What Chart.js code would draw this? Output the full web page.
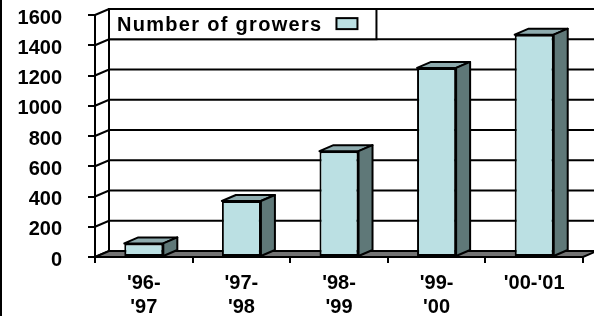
<!DOCTYPE html>
<html>
<head>
<meta charset="utf-8">
<script src="https://cdn.jsdelivr.net/npm/chart.js@4/dist/chart.umd.min.js"></script>
<style>
  html, body { margin: 0; padding: 0; background: #fff; }
  canvas { display: block; }
</style>
</head>
<body>
<canvas id="chart" width="594" height="316"></canvas>
<script>
// data
const seasons = [["'96-", "'97"], ["'97-", "'98"], ["'98-", "'99"], ["'99-", "'00"], "'00-'01"];
const growers = [90, 370, 700, 1250, 1470];
const yTicks = [0, 200, 400, 600, 800, 1000, 1200, 1400, 1600];
const seriesName = 'Number of growers';

// 3d look
const DX = 14, DY = -6;
const FRONT = '#bbe0e3', TOP = '#8eabae', SIDE = '#5f7878', FLOOR = '#737373';
const FONT = { family: '"Liberation Sans", Arial, sans-serif', size: 20, weight: 'bold' };

const wallPlugin = {
    id: 'wall',
    beforeDatasetsDraw(chart) {
        const ctx = chart.ctx;
        const { left, right } = chart.chartArea;
        const y = chart.scales.y;
        ctx.save();
        ctx.strokeStyle = '#000';
        ctx.lineWidth = 2;
        // back wall grid + side wall diagonals
        yTicks.forEach(v => {
            const py = y.getPixelForValue(v);
            ctx.beginPath();
            ctx.moveTo(left, py);
            ctx.lineTo(left + DX, py + DY);
            ctx.lineTo(right + DX, py + DY);
            ctx.stroke();
        });
        const y0 = y.getPixelForValue(0);
        const yMax = y.getPixelForValue(yTicks[yTicks.length - 1]);
        ctx.beginPath();
        ctx.moveTo(left + DX, y0 + DY);
        ctx.lineTo(left + DX, yMax + DY);
        ctx.stroke();
        // floor
        ctx.beginPath();
        ctx.moveTo(left, y0);
        ctx.lineTo(right, y0);
        ctx.lineTo(right + DX, y0 + DY);
        ctx.lineTo(left + DX, y0 + DY);
        ctx.closePath();
        ctx.fillStyle = FLOOR;
        ctx.fill();
        ctx.stroke();
        ctx.restore();
    },
    afterDatasetsDraw(chart) {
        const ctx = chart.ctx;
        ctx.save();
        ctx.strokeStyle = '#000';
        ctx.lineWidth = 2;
        ctx.lineJoin = 'round';
        chart.getDatasetMeta(0).data.forEach(bar => {
            const l = bar.x - bar.width / 2, r = bar.x + bar.width / 2;
            const t = bar.y, b = bar.base;
            // top face
            ctx.beginPath();
            ctx.moveTo(l, t);
            ctx.lineTo(l + DX, t + DY);
            ctx.lineTo(r + DX, t + DY);
            ctx.lineTo(r, t);
            ctx.closePath();
            ctx.fillStyle = TOP;
            ctx.fill();
            ctx.stroke();
            // side face
            ctx.beginPath();
            ctx.moveTo(r, t);
            ctx.lineTo(r + DX, t + DY);
            ctx.lineTo(r + DX, b + DY);
            ctx.lineTo(r, b);
            ctx.closePath();
            ctx.fillStyle = SIDE;
            ctx.fill();
            ctx.stroke();
        });
        ctx.restore();
    },
    afterDraw(chart) {
        const ctx = chart.ctx;
        const { left } = chart.chartArea;
        const y = chart.scales.y;
        ctx.save();
        // legend box sitting on the back wall
        const bx = left + DX;
        const by = y.getPixelForValue(1600) + DY;
        const bh = y.getPixelForValue(1400) - y.getPixelForValue(1600);
        ctx.font = `${FONT.weight} ${FONT.size}px ${FONT.family}`;
        ctx.letterSpacing = '1.3px';
        const tw = ctx.measureText(seriesName).width;
        const bw = 8 + tw + 14 + 21 + 19;
        ctx.fillStyle = '#fff';
        ctx.fillRect(bx, by, bw, bh);
        ctx.strokeStyle = '#000';
        ctx.lineWidth = 2;
        ctx.strokeRect(bx, by, bw, bh);
        ctx.fillStyle = '#000';
        ctx.textBaseline = 'middle';
        ctx.fillText(seriesName, bx + 8, by + bh / 2 + 1);
        ctx.fillStyle = FRONT;
        ctx.fillRect(bx + 8 + tw + 14, by + bh / 2 - 6, 21, 11);
        ctx.strokeRect(bx + 8 + tw + 14, by + bh / 2 - 6, 21, 11);
        // frame edge on the left
        ctx.fillStyle = '#000';
        ctx.fillRect(0, 0, 2, chart.height);
        ctx.restore();
    }
};

new Chart(document.getElementById('chart').getContext('2d'), {
    type: 'bar',
    plugins: [wallPlugin],
    data: {
        labels: seasons,
        datasets: [{
            label: seriesName,
            data: growers,
            backgroundColor: FRONT,
            borderColor: '#000',
            borderWidth: 2,
            borderSkipped: false,
            categoryPercentage: 1,
            barPercentage: 0.4
        }]
    },
    options: {
        responsive: false,
        animation: false,
        layout: {
            padding: { top: 15, right: 11, left: 0, bottom: 0 }
        },
        plugins: {
            legend: { display: false },
            tooltip: { enabled: false }
        },
        scales: {
            x: {
                grid: { drawOnChartArea: false, tickLength: 6, color: '#000', lineWidth: 2 },
                border: { color: '#000', width: 2 },
                ticks: { font: { ...FONT, lineHeight: 1.2 }, color: '#000', padding: 8, maxRotation: 0, autoSkip: false },
                afterFit: (s) => { s.height = 59; s.paddingLeft = 0; s.paddingRight = 0; }
            },
            y: {
                min: 0,
                max: 1600,
                afterBuildTicks: (s) => { s.ticks = yTicks.map(v => ({ value: v })); },
                grid: { drawOnChartArea: false, tickLength: 7, color: '#000', lineWidth: 2 },
                border: { color: '#000', width: 2 },
                ticks: { font: FONT, color: '#000', padding: 26, labelOffset: 3, callback: (v) => String(v) },
                afterFit: (s) => { s.width = 95; s.paddingTop = 0; s.paddingBottom = 0; }
            }
        }
    }
});
</script>
</body>
</html>
